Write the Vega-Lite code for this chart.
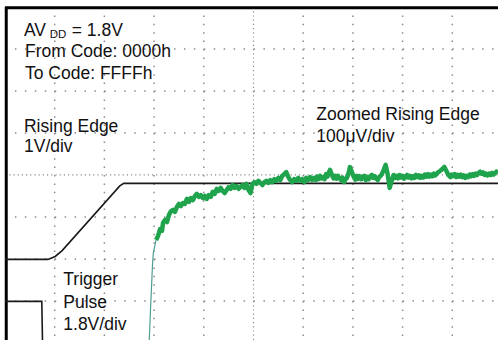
{
  "$schema": "https://vega.github.io/schema/vega-lite/v6.json",
  "width": 493,
  "height": 333,
  "autosize": "none",
  "padding": {"left": 5, "top": 7, "right": 0, "bottom": 0},
  "background": "white",
  "config": {"view": {"stroke": null}, "font": "Liberation Sans", "axis": {"disable": true}},
  "encoding": {
    "x": {"field": "x", "type": "quantitative", "scale": {"domain": [-5, 4.92], "nice": false, "zero": false}, "axis": null},
    "y": {"field": "y", "type": "quantitative", "scale": {"domain": [-3.93, 4], "nice": false, "zero": false}, "axis": null}
  },
  "datasets": {
    "gridx": [
      {"x": -4, "y": 4, "y2": -3.93}, {"x": -3, "y": 4, "y2": -3.93}, {"x": -2, "y": 4, "y2": -3.93}, {"x": -1, "y": 4, "y2": -3.93},
      {"x": 1, "y": 4, "y2": -3.93}, {"x": 2, "y": 4, "y2": -3.93}, {"x": 3, "y": 4, "y2": -3.93}, {"x": 4, "y": 4, "y2": -3.93}
    ],
    "gridy": [
      {"y": 3, "x": -5, "x2": 4.92}, {"y": 2, "x": -5, "x2": 4.92}, {"y": 1, "x": -5, "x2": 4.92},
      {"y": -1, "x": -5, "x2": 4.92}, {"y": -2, "x": -5, "x2": 4.92}, {"y": -3, "x": -5, "x2": 4.92}
    ],
    "centerv": [{"x": 0, "y": 4, "y2": -3.93}],
    "centerh": [{"x": -5, "x2": 4.92, "y": 0}],
    "framev": [{"x": -4.975, "y": 4, "y2": -3.93}],
    "frameh": [{"x": -5, "x2": 4.92, "y": 3.985}],
    "minorx": [
      {"x": -4.8}, {"x": -4.6}, {"x": -4.4}, {"x": -4.2}, {"x": -4}, {"x": -3.8}, {"x": -3.6}, {"x": -3.4}, {"x": -3.2}, {"x": -3},
      {"x": -2.8}, {"x": -2.6}, {"x": -2.4}, {"x": -2.2}, {"x": -2}, {"x": -1.8}, {"x": -1.6}, {"x": -1.4}, {"x": -1.2}, {"x": -1},
      {"x": -0.8}, {"x": -0.6}, {"x": -0.4}, {"x": -0.2}, {"x": 0.2}, {"x": 0.4}, {"x": 0.6}, {"x": 0.8}, {"x": 1},
      {"x": 1.2}, {"x": 1.4}, {"x": 1.6}, {"x": 1.8}, {"x": 2}, {"x": 2.2}, {"x": 2.4}, {"x": 2.6}, {"x": 2.8}, {"x": 3},
      {"x": 3.2}, {"x": 3.4}, {"x": 3.6}, {"x": 3.8}, {"x": 4}, {"x": 4.2}, {"x": 4.4}, {"x": 4.6}, {"x": 4.8}
    ],
    "minory": [
      {"y": -3.8}, {"y": -3.6}, {"y": -3.4}, {"y": -3.2}, {"y": -3}, {"y": -2.8}, {"y": -2.6}, {"y": -2.4}, {"y": -2.2}, {"y": -2},
      {"y": -1.8}, {"y": -1.6}, {"y": -1.4}, {"y": -1.2}, {"y": -1}, {"y": -0.8}, {"y": -0.6}, {"y": -0.4}, {"y": -0.2},
      {"y": 0.2}, {"y": 0.4}, {"y": 0.6}, {"y": 0.8}, {"y": 1}, {"y": 1.2}, {"y": 1.4}, {"y": 1.6}, {"y": 1.8}, {"y": 2},
      {"y": 2.2}, {"y": 2.4}, {"y": 2.6}, {"y": 2.8}, {"y": 3}, {"y": 3.2}, {"y": 3.4}, {"y": 3.6}, {"y": 3.8}
    ],
    "black": [
      {"s": "edge", "x": -5, "y": -2.01}, {"s": "edge", "x": -4.135, "y": -2.01}, {"s": "edge", "x": -3.99, "y": -1.94},
      {"s": "edge", "x": -3.85, "y": -1.8}, {"s": "edge", "x": -2.69, "y": -0.26}, {"s": "edge", "x": -2.61, "y": -0.2},
      {"s": "edge", "x": 4.92, "y": -0.2},
      {"s": "pulse", "x": -5, "y": -3.01}, {"s": "pulse", "x": -4.26, "y": -3.01}, {"s": "pulse", "x": -4.24, "y": -4.3}
    ],
    "steep": [
      {"x": -2.107, "y": -4.19}, {"x": -2.097, "y": -3.93}, {"x": -2.072, "y": -3.21}, {"x": -2.048, "y": -2.57},
      {"x": -2.032, "y": -2.14}, {"x": -2.016, "y": -1.86}, {"x": -1.982, "y": -1.67}, {"x": -1.962, "y": -1.55}
    ],
    "noisy": [
      {"x": -1.96, "y": -1.55}, {"x": -1.92, "y": -1.45}, {"x": -1.88, "y": -1.29}, {"x": -1.84, "y": -1.33},
      {"x": -1.82, "y": -1.14}, {"x": -1.78, "y": -1.07}, {"x": -1.74, "y": -1.12}, {"x": -1.7, "y": -0.95},
      {"x": -1.66, "y": -0.86}, {"x": -1.62, "y": -0.83}, {"x": -1.58, "y": -0.88}, {"x": -1.54, "y": -0.76},
      {"x": -1.5, "y": -0.69}, {"x": -1.46, "y": -0.74}, {"x": -1.42, "y": -0.67}, {"x": -1.38, "y": -0.69},
      {"x": -1.34, "y": -0.57}, {"x": -1.3, "y": -0.64}, {"x": -1.26, "y": -0.55}, {"x": -1.22, "y": -0.6},
      {"x": -1.18, "y": -0.5}, {"x": -1.14, "y": -0.45}, {"x": -1.1, "y": -0.52}, {"x": -1.06, "y": -0.48},
      {"x": -1.02, "y": -0.55}, {"x": -0.98, "y": -0.5}, {"x": -0.94, "y": -0.57}, {"x": -0.9, "y": -0.48},
      {"x": -0.86, "y": -0.52}, {"x": -0.82, "y": -0.4}, {"x": -0.78, "y": -0.45}, {"x": -0.74, "y": -0.33},
      {"x": -0.7, "y": -0.38}, {"x": -0.66, "y": -0.31}, {"x": -0.62, "y": -0.38}, {"x": -0.58, "y": -0.43},
      {"x": -0.54, "y": -0.36}, {"x": -0.5, "y": -0.29}, {"x": -0.46, "y": -0.33}, {"x": -0.42, "y": -0.24},
      {"x": -0.38, "y": -0.31}, {"x": -0.34, "y": -0.26}, {"x": -0.3, "y": -0.33}, {"x": -0.26, "y": -0.29},
      {"x": -0.22, "y": -0.24}, {"x": -0.18, "y": -0.31}, {"x": -0.14, "y": -0.21}, {"x": -0.1, "y": -0.36},
      {"x": -0.06, "y": -0.43}, {"x": -0.02, "y": -0.21}, {"x": 0.02, "y": -0.17}, {"x": 0.06, "y": -0.21},
      {"x": 0.1, "y": -0.14}, {"x": 0.14, "y": -0.19}, {"x": 0.18, "y": -0.24}, {"x": 0.22, "y": -0.17},
      {"x": 0.26, "y": -0.14}, {"x": 0.3, "y": -0.19}, {"x": 0.34, "y": -0.12}, {"x": 0.38, "y": -0.17},
      {"x": 0.42, "y": -0.1}, {"x": 0.46, "y": -0.14}, {"x": 0.5, "y": -0.07}, {"x": 0.54, "y": -0.12},
      {"x": 0.58, "y": -0.02}, {"x": 0.62, "y": 0.02}, {"x": 0.66, "y": 0.07}, {"x": 0.7, "y": -0.05},
      {"x": 0.74, "y": -0.12}, {"x": 0.78, "y": -0.17}, {"x": 0.82, "y": -0.1}, {"x": 0.86, "y": -0.14},
      {"x": 0.9, "y": -0.07}, {"x": 0.94, "y": -0.14}, {"x": 0.98, "y": -0.1}, {"x": 1.02, "y": -0.17},
      {"x": 1.06, "y": -0.07}, {"x": 1.1, "y": -0.12}, {"x": 1.14, "y": -0.05}, {"x": 1.18, "y": -0.12},
      {"x": 1.22, "y": -0.07}, {"x": 1.25, "y": -0.12}, {"x": 1.28, "y": -0.04}, {"x": 1.31, "y": -0.1}, {"x": 1.34, "y": -0.02}, {"x": 1.37, "y": -0.08}, {"x": 1.4, "y": -0.05},
      {"x": 1.43, "y": -0.1}, {"x": 1.46, "y": 0.02}, {"x": 1.49, "y": -0.04}, {"x": 1.52, "y": 0.07}, {"x": 1.54, "y": 0.12}, {"x": 1.58, "y": 0.0},
      {"x": 1.61, "y": -0.08}, {"x": 1.64, "y": -0.02}, {"x": 1.67, "y": -0.09}, {"x": 1.7, "y": -0.02}, {"x": 1.73, "y": -0.08}, {"x": 1.76, "y": -0.12}, {"x": 1.79, "y": -0.06}, {"x": 1.82, "y": -0.17},
      {"x": 1.85, "y": -0.1}, {"x": 1.88, "y": -0.07}, {"x": 1.92, "y": 0.07}, {"x": 1.94, "y": 0.19}, {"x": 1.98, "y": 0.07},
      {"x": 2.02, "y": -0.05}, {"x": 2.05, "y": -0.11}, {"x": 2.08, "y": -0.02}, {"x": 2.11, "y": -0.09}, {"x": 2.14, "y": -0.03}, {"x": 2.17, "y": -0.1}, {"x": 2.2, "y": -0.05},
      {"x": 2.23, "y": -0.02}, {"x": 2.26, "y": -0.12}, {"x": 2.29, "y": -0.05}, {"x": 2.32, "y": -0.1}, {"x": 2.35, "y": -0.03}, {"x": 2.38, "y": 0.0}, {"x": 2.41, "y": -0.07}, {"x": 2.44, "y": -0.03},
      {"x": 2.47, "y": -0.09}, {"x": 2.5, "y": -0.12}, {"x": 2.53, "y": -0.05}, {"x": 2.56, "y": -0.02}, {"x": 2.59, "y": 0.04}, {"x": 2.62, "y": 0.12}, {"x": 2.66, "y": 0.24},
      {"x": 2.7, "y": 0.02}, {"x": 2.74, "y": -0.31}, {"x": 2.78, "y": -0.14}, {"x": 2.82, "y": 0.0},
      {"x": 2.85, "y": -0.07}, {"x": 2.88, "y": -0.02}, {"x": 2.91, "y": -0.08}, {"x": 2.94, "y": 0.0}, {"x": 2.97, "y": -0.06}, {"x": 3.0, "y": -0.02}, {"x": 3.03, "y": -0.09}, {"x": 3.06, "y": -0.05},
      {"x": 3.09, "y": 0.0}, {"x": 3.12, "y": -0.06}, {"x": 3.15, "y": -0.02}, {"x": 3.18, "y": -0.08}, {"x": 3.21, "y": -0.03}, {"x": 3.24, "y": -0.07}, {"x": 3.27, "y": 0.0}, {"x": 3.3, "y": -0.05},
      {"x": 3.33, "y": -0.01}, {"x": 3.36, "y": -0.07}, {"x": 3.39, "y": -0.02}, {"x": 3.42, "y": -0.06}, {"x": 3.45, "y": 0.01}, {"x": 3.48, "y": -0.04}, {"x": 3.51, "y": 0.02}, {"x": 3.54, "y": -0.04},
      {"x": 3.57, "y": 0.01}, {"x": 3.6, "y": -0.03}, {"x": 3.63, "y": 0.03}, {"x": 3.66, "y": -0.01}, {"x": 3.7, "y": 0.05}, {"x": 3.76, "y": 0.1},
      {"x": 3.8, "y": 0.14}, {"x": 3.84, "y": 0.19}, {"x": 3.88, "y": 0.1}, {"x": 3.92, "y": 0.0},
      {"x": 3.96, "y": -0.05}, {"x": 3.99, "y": 0.01}, {"x": 4.02, "y": -0.03}, {"x": 4.05, "y": 0.02}, {"x": 4.08, "y": -0.05}, {"x": 4.11, "y": 0.0}, {"x": 4.14, "y": -0.04},
      {"x": 4.17, "y": 0.01}, {"x": 4.2, "y": -0.05}, {"x": 4.23, "y": -0.01}, {"x": 4.26, "y": -0.07}, {"x": 4.29, "y": -0.02}, {"x": 4.32, "y": -0.05}, {"x": 4.35, "y": 0.01}, {"x": 4.38, "y": -0.03},
      {"x": 4.41, "y": 0.02}, {"x": 4.44, "y": -0.02}, {"x": 4.47, "y": 0.03}, {"x": 4.5, "y": 0.0}, {"x": 4.53, "y": 0.05}, {"x": 4.56, "y": 0.08}, {"x": 4.59, "y": 0.03}, {"x": 4.62, "y": 0.06},
      {"x": 4.65, "y": 0.0}, {"x": 4.68, "y": 0.03}, {"x": 4.71, "y": -0.01}, {"x": 4.74, "y": 0.03}, {"x": 4.77, "y": 0.0}, {"x": 4.8, "y": 0.05}, {"x": 4.83, "y": 0.01}, {"x": 4.86, "y": 0.04},
      {"x": 4.89, "y": 0.08}, {"x": 4.92, "y": 0.05}
    ],
    "labels": [
      {"x": -4.618, "y": 3.31, "t": "AV"},
      {"x": -3.657, "y": 3.31, "t": "= 1.8V"},
      {"x": -4.598, "y": 2.81, "t": "From Code: 0000h"},
      {"x": -4.598, "y": 2.29, "t": "To Code: FFFFh"},
      {"x": -4.618, "y": 1.024, "t": "Rising Edge"},
      {"x": -4.618, "y": 0.548, "t": "1V/div"},
      {"x": 1.264, "y": 1.31, "t": "Zoomed Rising Edge"},
      {"x": 1.264, "y": 0.78, "t": "100μV/div"},
      {"x": -3.827, "y": -2.62, "t": "Trigger"},
      {"x": -3.827, "y": -3.17, "t": "Pulse"},
      {"x": -3.827, "y": -3.69, "t": "1.8V/div"}
    ],
    "sub": [
      {"x": -4.1, "y": 3.255, "t": "DD"}
    ]
  },
  "layer": [
    {
      "data": {"name": "gridx"},
      "mark": {"type": "rule", "color": "#8c8c8c", "strokeWidth": 1.5, "strokeDash": [1.5, 6.9]},
      "encoding": {"y2": {"field": "y2"}}
    },
    {
      "data": {"name": "gridy"},
      "mark": {"type": "rule", "color": "#8c8c8c", "strokeWidth": 1.5, "strokeDash": [1.5, 8.44]},
      "encoding": {"x2": {"field": "x2"}}
    },
    {
      "data": {"name": "centerv"},
      "mark": {"type": "rule", "color": "#8c8c8c", "strokeWidth": 1.2, "strokeDash": [1.2, 3]},
      "encoding": {"y2": {"field": "y2"}}
    },
    {
      "data": {"name": "centerh"},
      "mark": {"type": "rule", "color": "#8c8c8c", "strokeWidth": 1.2, "strokeDash": [1.2, 3]},
      "encoding": {"x2": {"field": "x2"}}
    },
    {
      "data": {"name": "minorx"},
      "mark": {"type": "tick", "orient": "vertical", "color": "#8c8c8c", "size": 6, "thickness": 1},
      "encoding": {"y": {"datum": 0, "type": "quantitative"}}
    },
    {
      "data": {"name": "minory"},
      "mark": {"type": "tick", "orient": "horizontal", "color": "#8c8c8c", "size": 6, "thickness": 1},
      "encoding": {"x": {"datum": 0, "type": "quantitative"}}
    },
    {
      "data": {"name": "minorx"},
      "mark": {"type": "tick", "orient": "vertical", "color": "#8c8c8c", "size": 4, "thickness": 1},
      "encoding": {"y": {"datum": 3.94, "type": "quantitative"}}
    },
    {
      "data": {"name": "minory"},
      "mark": {"type": "tick", "orient": "horizontal", "color": "#8c8c8c", "size": 4, "thickness": 1},
      "encoding": {"x": {"datum": -4.93, "type": "quantitative"}}
    },
    {
      "data": {"name": "framev"},
      "mark": {"type": "rule", "color": "#000000", "strokeWidth": 3},
      "encoding": {"y2": {"field": "y2"}}
    },
    {
      "data": {"name": "frameh"},
      "mark": {"type": "rule", "color": "#000000", "strokeWidth": 3},
      "encoding": {"x2": {"field": "x2"}}
    },
    {
      "data": {"name": "black"},
      "mark": {"type": "line", "color": "#1a1a1a", "strokeWidth": 1.6, "clip": true},
      "encoding": {"detail": {"field": "s"}}
    },
    {
      "data": {"name": "steep"},
      "mark": {"type": "line", "color": "#4f9e93", "strokeWidth": 1.2, "clip": true}
    },
    {
      "data": {"name": "noisy"},
      "mark": {"type": "line", "color": "#1fa34c", "strokeWidth": 4.5, "strokeJoin": "round", "clip": true}
    },
    {
      "data": {"name": "labels"},
      "mark": {"type": "text", "align": "left", "baseline": "alphabetic", "fontSize": 17.5, "color": "#111"},
      "encoding": {"text": {"field": "t"}}
    },
    {
      "data": {"name": "sub"},
      "mark": {"type": "text", "align": "left", "baseline": "alphabetic", "fontSize": 11.5, "color": "#111"},
      "encoding": {"text": {"field": "t"}}
    }
  ]
}
